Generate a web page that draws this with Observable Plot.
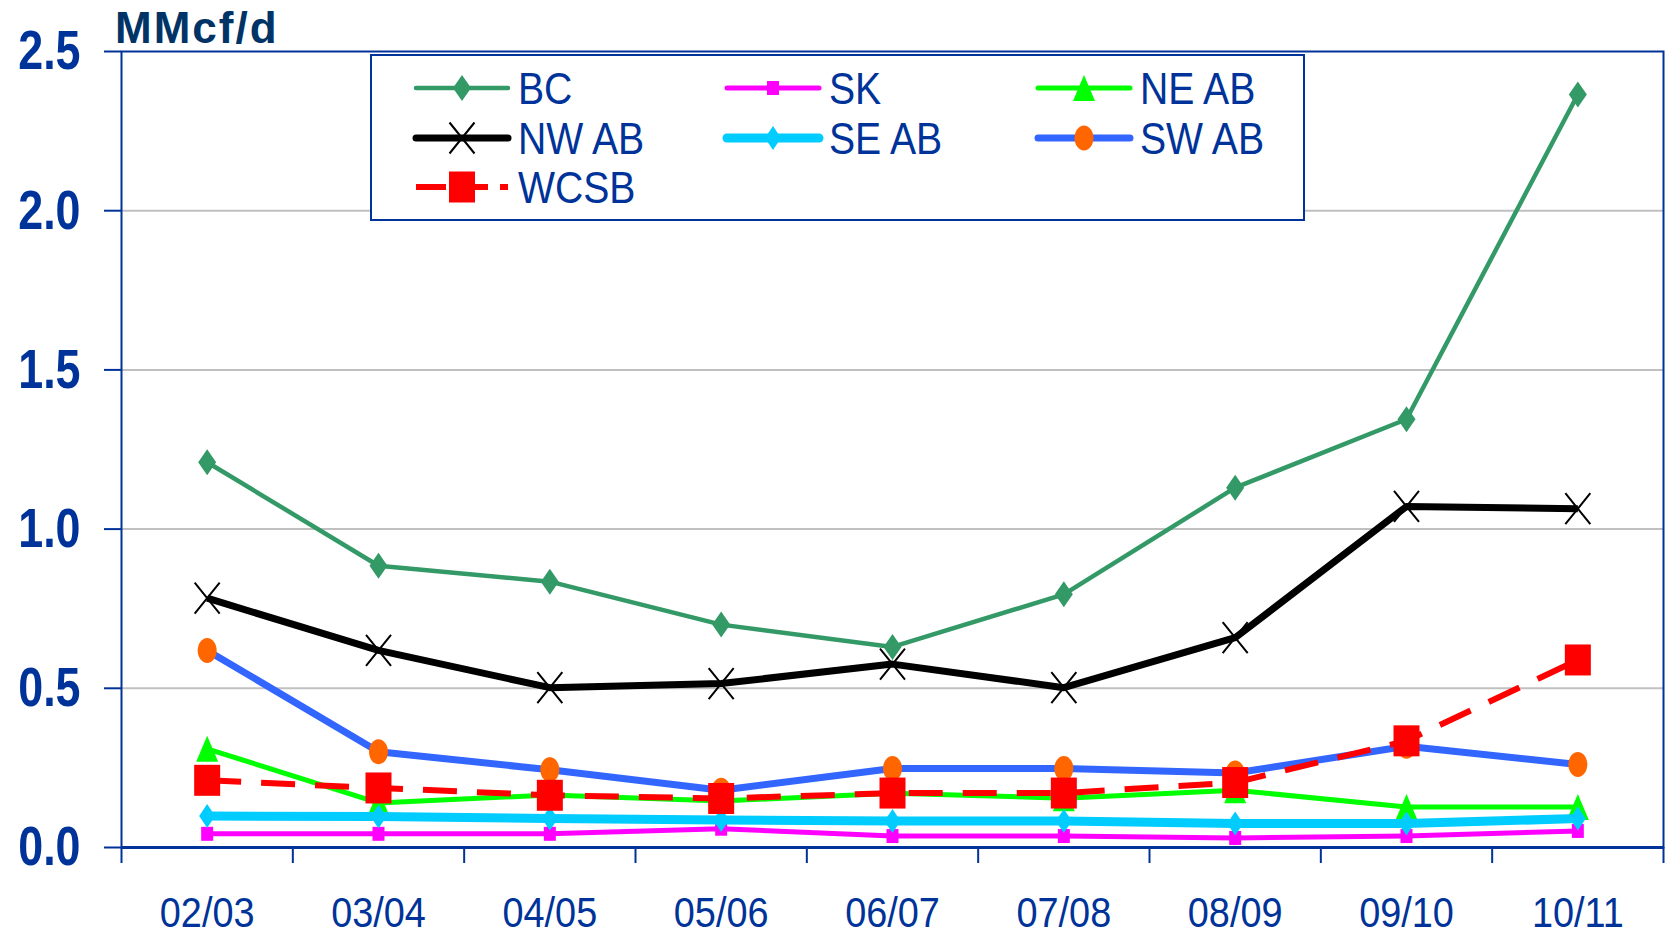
<!DOCTYPE html>
<html><head><meta charset="utf-8">
<script src="https://cdn.jsdelivr.net/npm/d3@7"></script>
<script src="https://cdn.jsdelivr.net/npm/@observablehq/plot@0.6"></script>
<style>
body{margin:0;background:#fff;}
#wrap{position:relative;width:1665px;height:936px;overflow:hidden;background:#fff;}
#wrap > svg{display:block}
#overlay{position:absolute;left:0;top:0;pointer-events:none;}
</style></head><body><div id="wrap"></div>
<script>
// ---------- data ----------
const categories = ["02/03","03/04","04/05","05/06","06/07","07/08","08/09","09/10","10/11"];
const seriesNames = ["BC","SK","NE AB","NW AB","SE AB","SW AB","WCSB"];
const BC    = [1.21, 0.885, 0.835, 0.70, 0.63, 0.795, 1.13, 1.345, 2.365];
const SK    = [0.043, 0.043, 0.043, 0.059, 0.036, 0.036, 0.030, 0.036, 0.052];
const NE_AB = [0.31, 0.14, 0.165, 0.146, 0.17, 0.155, 0.18, 0.127, 0.127];
const NW_AB = [0.783, 0.619, 0.502, 0.515, 0.576, 0.502, 0.659, 1.071, 1.064];
const SE_AB = [0.099, 0.097, 0.091, 0.086, 0.083, 0.083, 0.075, 0.075, 0.091];
const SW_AB = [0.619, 0.301, 0.244, 0.18, 0.248, 0.248, 0.234, 0.318, 0.261];
const WCSB  = [0.211, 0.187, 0.164, 0.154, 0.171, 0.171, 0.204, 0.335, 0.589];
const seriesValues = [BC, SK, NE_AB, NW_AB, SE_AB, SW_AB, WCSB];
const yTicks = [0, 0.5, 1.0, 1.5, 2.0, 2.5];
const gridTicks = [0.5, 1.0, 1.5, 2.0];
const unitLabel = "MMcf/d";

// ---------- styles ----------
const SANS = "'Liberation Sans',Arial,sans-serif";
const BLUE = "#003399";
function diamond(w,h){return {draw(c){c.moveTo(0,-h/2);c.lineTo(w/2,0);c.lineTo(0,h/2);c.lineTo(-w/2,0);c.closePath();}};}
function rect(w,h){return {draw(c){c.moveTo(-w/2,-h/2);c.lineTo(w/2,-h/2);c.lineTo(w/2,h/2);c.lineTo(-w/2,h/2);c.closePath();}};}
function triangle(w,h){return {draw(c){c.moveTo(0,-h/2);c.lineTo(w/2,h/2);c.lineTo(-w/2,h/2);c.closePath();}};}
function times(w,h){return {draw(c){c.moveTo(-w/2,-h/2);c.lineTo(w/2,h/2);c.moveTo(w/2,-h/2);c.lineTo(-w/2,h/2);}};}
function ellipse(w,h){const k=0.5523,a=w/2,b=h/2;return {draw(c){c.moveTo(a,0);c.bezierCurveTo(a,k*b,k*a,b,0,b);c.bezierCurveTo(-k*a,b,-a,k*b,-a,0);c.bezierCurveTo(-a,-k*b,-k*a,-b,0,-b);c.bezierCurveTo(k*a,-b,a,-k*b,a,0);c.closePath();}};}
const styles = {
  "BC":    {line:"#339966", width:4.5, marker:"#339966", sym:diamond(18,26)},
  "SK":    {line:"#FF00FF", width:5, marker:"#FF00FF", sym:rect(12,14)},
  "NE AB": {line:"#00FF00", width:5, marker:"#00FF00", sym:triangle(22,26)},
  "NW AB": {line:"#000000", width:7, marker:"#000000", sym:times(25,31), stroked:true},
  "SE AB": {line:"#00CCFF", width:9, marker:"#00CCFF", sym:diamond(16,24)},
  "SW AB": {line:"#3366FF", width:7, marker:"#FF6600", sym:ellipse(19,25)},
  "WCSB":  {line:"#FF0000", width:6, dash:"34,20", marker:"#FF0000", sym:rect(26,31)}
};

// ---------- table ----------
const table = [];
seriesNames.forEach((s, si) => categories.forEach((c, i) => table.push({series:s, x:i + 0.5, cat:c, value:seriesValues[si][i]})));

const seriesMarks = [];
for (const s of seriesNames) {
  const st = styles[s];
  const data = table.filter(d => d.series === s);
  seriesMarks.push(Plot.line(data, {x:"x", y:"value", stroke:st.line, strokeWidth:st.width, strokeDasharray:st.dash, strokeLinejoin:"round", strokeLinecap:"butt"}));
  seriesMarks.push(Plot.dot(data, st.stroked
    ? {x:"x", y:"value", symbol:st.sym, stroke:st.marker, strokeWidth:2, fill:"none"}
    : {x:"x", y:"value", symbol:st.sym, fill:st.marker, stroke:"none"}));
}

const chart = Plot.plot({
  width:1665, height:936,
  marginLeft:121, marginRight:2, marginTop:51, marginBottom:89,
  x:{domain:[0, categories.length]},
  y:{domain:[0, 2.5]},
  style:{fontFamily:SANS, background:"white", overflow:"visible"},
  marks:[
    Plot.gridY(gridTicks, {stroke:"#C0C0C0", strokeOpacity:1, strokeWidth:2}),
    Plot.frame({stroke:BLUE, strokeWidth:2}),
    Plot.axisY(yTicks, {tickSize:17, tickPadding:24, tickFormat:d3.format(".1f"), fontSize:56, fontWeight:"bold", color:BLUE, strokeWidth:2, label:null, ariaLabel:"y-axis"}),
    Plot.axisX(d3.range(categories.length + 1), {tickSize:16, tickFormat:() => "", color:BLUE, strokeWidth:2, label:null}),
    Plot.axisX(categories.map((c, i) => i + 0.5), {tickSize:0, tickPadding:49, tickFormat:d => categories[Math.floor(d)], fontSize:43, color:BLUE, label:null}),
    Plot.ruleY([0], {stroke:BLUE, strokeWidth:3}),
    ...seriesMarks
  ]
});
const wrap = document.getElementById("wrap");
wrap.appendChild(chart);

// narrow (condensed) look for the tick labels, like Arial Narrow
d3.select(chart).selectAll("g[aria-label='y-axis tick label'] text").each(function(){
  const t = this.getAttribute("transform") || "";
  this.setAttribute("transform", t + " scale(0.8,1)");
});
d3.select(chart).selectAll("g[aria-label='x-axis tick label'] text").each(function(){
  const t = this.getAttribute("transform") || "";
  this.setAttribute("transform", t + " scale(0.88,1)");
});

// ---------- overlay: unit title + legend ----------
const ov = d3.select(wrap).append("svg").attr("id","overlay").attr("width",1665).attr("height",936);
ov.append("text").attr("x",115).attr("y",43).attr("fill","#003366")
  .attr("font-family",SANS).attr("font-weight","bold").attr("font-size",44)
  .attr("letter-spacing","2px").text(unitLabel);
ov.append("rect").attr("x",371).attr("y",55).attr("width",933).attr("height",165)
  .attr("fill","white").attr("stroke",BLUE).attr("stroke-width",2);
const colX = [416, 727, 1038];
const rowY = [88, 138, 187];
const lineLen = 92;
seriesNames.forEach((s, i) => {
  const st = styles[s];
  const x0 = colX[i % 3], y0 = rowY[Math.floor(i / 3)];
  const g = ov.append("g");
  g.append("line").attr("x1",x0).attr("x2",x0+lineLen).attr("y1",y0).attr("y2",y0)
    .attr("stroke",st.line).attr("stroke-width",st.width).attr("stroke-linecap", st.dash ? "butt" : "round")
    .attr("stroke-dasharray", st.dash ? "30,12" : null);
  const p = d3.path(); st.sym.draw(p);
  g.append("path").attr("d",p.toString()).attr("transform",`translate(${x0+lineLen/2},${y0})`)
    .attr("fill", st.stroked ? "none" : st.marker).attr("stroke", st.stroked ? st.marker : "none").attr("stroke-width",2);
  g.append("text").attr("transform",`translate(${x0+lineLen+10},${y0+16}) scale(0.89,1)`).attr("fill",BLUE)
    .attr("font-family",SANS).attr("font-size",44).text(s);
});
</script></body></html>
